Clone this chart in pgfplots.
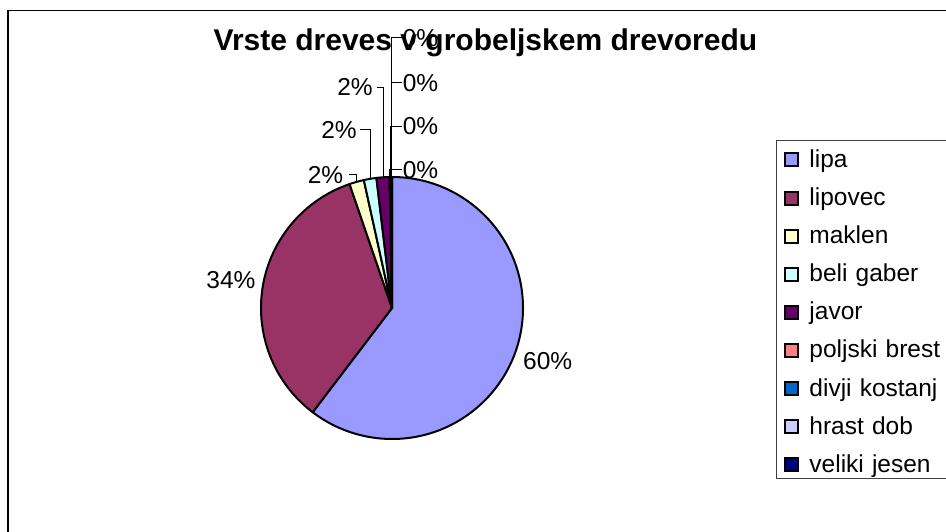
\documentclass[border=0pt]{standalone}
\usepackage{pgfplots}
\pgfplotsset{compat=1.18}
\usepackage{pgfplotstable}
\usepackage{fontspec}
\setmainfont{Liberation Sans}

\definecolor{cLipa}{HTML}{9999FF}
\definecolor{cLipovec}{HTML}{993366}
\definecolor{cMaklen}{HTML}{FFFFCC}
\definecolor{cBeli}{HTML}{CCFFFF}
\definecolor{cJavor}{HTML}{660066}
\definecolor{cBrest}{HTML}{FF8080}
\definecolor{cKostanj}{HTML}{0066CC}
\definecolor{cHrast}{HTML}{CCCCFF}
\definecolor{cJesen}{HTML}{000080}

% share in %, label centre x, label baseline y, leader end x (picture px, y down)
\pgfplotstableread[col sep=comma]{
name,value,color,lx,lb,lex
lipa,60.35,cLipa,547.7,370,0
lipovec,34.4,cLipovec,231,288.5,0
maklen,1.8,cMaklen,325.5,183.3,349
beli gaber,1.55,cBeli,339,138.3,360
javor,1.6,cJavor,355,96,377
poljski brest,0.075,cBrest,420.5,178.3,401.7
divji kostanj,0.075,cKostanj,420.5,135,401.7
hrast dob,0.075,cHrast,420.5,91.5,401.7
veliki jesen,0.075,cJesen,420.5,46.5,401.7
}\pietable

\def\cx{392}\def\cy{223}\def\pieR{131}

\begin{document}
\begin{tikzpicture}
\useasboundingbox (0,0) rectangle (946pt,531pt);
\clip (0,0) rectangle (946pt,531pt);
\begin{axis}[
  at={(0,0)}, anchor=south west,
  scale only axis, width=946pt, height=531pt,
  xmin=0, xmax=946, ymin=0, ymax=531,
  hide axis, clip=false,
  title={Vrste dreves v grobeljskem drevoredu},
  title style={at={(0.5132,0.8932)}, anchor=base, inner sep=0pt,
    font=\fontsize{30}{36}\selectfont\bfseries},
  legend cell align=left,
  legend image code/.code={\draw[#1, line width=2pt] (0pt,1pt) rectangle (13pt,14pt);},
  legend style={at={(0.8203,0.7363)}, anchor=north west,
    draw=black!75, line width=0.9pt, fill=white,
    font=\fontsize{24.5}{29}\selectfont,
    inner xsep=8pt, inner ysep=6pt, row sep=17.1pt, column sep=10pt,
    nodes={inner sep=0pt, text height=21pt, text depth=0pt, anchor=base west,
      text width=140pt, align=left}},
]
\addlegendimage{fill=cLipa}\addlegendentry{lipa}
\addlegendimage{fill=cLipovec}\addlegendentry{lipovec}
\addlegendimage{fill=cMaklen}\addlegendentry{maklen}
\addlegendimage{fill=cBeli}\addlegendentry{beli gaber}
\addlegendimage{fill=cJavor}\addlegendentry{javor}
\addlegendimage{fill=cBrest}\addlegendentry{poljski brest}
\addlegendimage{fill=cKostanj}\addlegendentry{divji kostanj}
\addlegendimage{fill=cHrast}\addlegendentry{hrast dob}
\addlegendimage{fill=cJesen}\addlegendentry{veliki jesen}

\pgfplotsextra{
  % wedges, clockwise from 12 o'clock
  \gdef\cum{0}
  \foreach \i in {0,...,8}{
    \pgfplotstablegetelem{\i}{value}\of\pietable \let\val\pgfplotsretval
    \pgfplotstablegetelem{\i}{color}\of\pietable \let\col\pgfplotsretval
    \pgfmathsetmacro\sa{90-3.6*\cum}
    \pgfmathsetmacro\ea{\sa-3.6*\val}
    \fill[fill=\col, draw=black, line width=2pt, line join=round]
      (axis cs:\cx,\cy) -- ++(\sa:\pieR pt) arc[start angle=\sa, end angle=\ea, radius=\pieR pt] -- cycle;
    \pgfmathsetmacro\nc{\cum+\val}\xdef\cum{\nc}
  }
  % percentage labels and leader lines
  \gdef\cum{0}
  \foreach \i in {0,...,8}{
    \pgfplotstablegetelem{\i}{value}\of\pietable \let\val\pgfplotsretval
    \pgfplotstablegetelem{\i}{lx}\of\pietable \let\lx\pgfplotsretval
    \pgfplotstablegetelem{\i}{lb}\of\pietable \let\lb\pgfplotsretval
    \pgfplotstablegetelem{\i}{lex}\of\pietable \let\lex\pgfplotsretval
    \pgfmathsetmacro\ma{90-3.6*(\cum+\val/2)}
    \pgfmathtruncatemacro\pct{round(\val)}
    \pgfmathsetmacro\Y{531-\lb}
    \node[anchor=base, inner sep=0pt, font=\fontsize{24.5}{29}\selectfont]
      at (axis cs:\lx,\Y) {\pct\%};
    \ifdim\lex pt>0pt
      \pgfmathsetmacro\Ly{531-\lb+8.75}
      \pgfmathsetmacro\px{\cx+\pieR*cos(\ma)}
      \pgfmathsetmacro\py{\cy+\pieR*sin(\ma)}
      \draw[line width=0.8pt] (axis cs:\lex,\Ly) -| (axis cs:\px,\py);
    \fi
    \pgfmathsetmacro\nc{\cum+\val}\xdef\cum{\nc}
  }
}
\end{axis}
% chart frame (right and bottom edges lie outside the picture)
\draw[line width=1.3pt] (8pt,-10pt) -- (8pt,520.5pt) -- (960pt,520.5pt);
\end{tikzpicture}
\end{document}
